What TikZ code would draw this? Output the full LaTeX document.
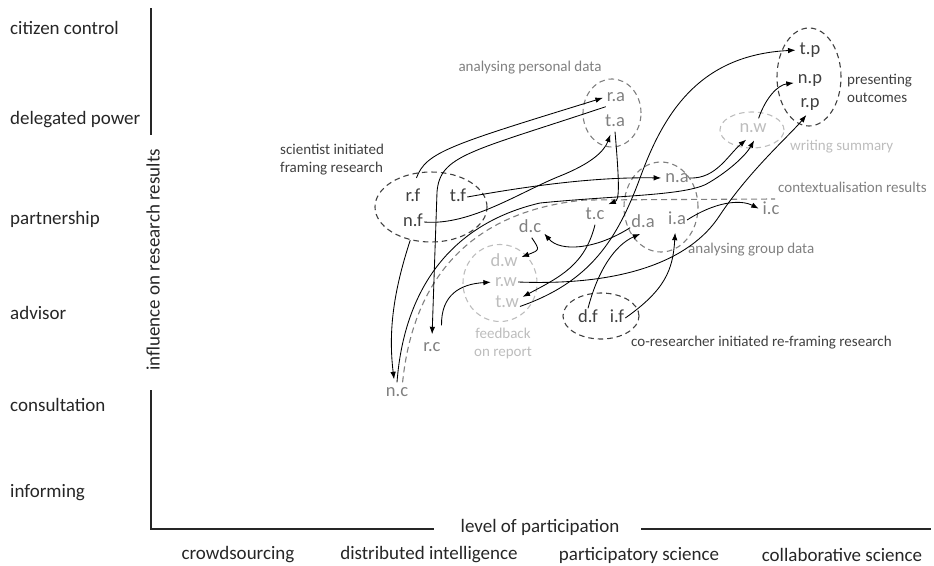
\documentclass[tikz,border=0pt]{standalone}
\usepackage{fontspec}
\setmainfont{Carlito}
\usetikzlibrary{arrows.meta,shapes.geometric}
\definecolor{axisink}{HTML}{262626}
\definecolor{darkink}{HTML}{404040}
\definecolor{midink}{HTML}{808080}
\definecolor{lightink}{HTML}{BDBDBD}
\begin{document}
\begin{tikzpicture}[x=1pt,y=-1pt,
  lvl/.style={anchor=west, inner sep=0pt, text=axisink, font=\fontsize{19}{22}\selectfont},
  axtext/.style={inner sep=0pt, text=axisink, font=\fontsize{19}{22}\selectfont},
  lbl/.style={inner sep=1pt, text height=13pt, text depth=4pt, font=\fontsize{18.5}{20}\selectfont},
  dk/.style={lbl, text=darkink},
  md/.style={lbl, text=midink},
  lt/.style={lbl, text=lightink},
  note/.style={inner sep=0pt, font=\fontsize{15}{18}\selectfont},
  grp/.style={ellipse, inner sep=0pt, dashed, dash pattern=on 5.5pt off 4pt, line width=1.1pt},
  arr/.style={-{Latex[length=7.5pt,width=5.5pt]}, line width=0.85pt, black, shorten >=3pt},
  axisline/.style={line width=1.8pt, axisink}]
\useasboundingbox (0,0) rectangle (934,565);

% axes
\draw[axisline] (151,8) -- (151,135);
\draw[axisline] (151,390) -- (151,529) -- (434,529);
\draw[axisline] (641,529) -- (931,529);
\node[axtext, rotate=90] (yaxis) at (153,260) {influence on research results};
\node[axtext] (xaxis) at (540,527) {level of participation};

% levels of participation (ladder)
\node[lvl] (l1) at (10,28) {citizen control};
\node[lvl] (l2) at (10,120) {delegated power};
\node[lvl] (l3) at (10,219) {partnership};
\node[lvl] (l4) at (10,313) {advisor};
\node[lvl] (l5) at (10,405) {consultation};
\node[lvl] (l6) at (10,493) {informing};

% kinds of citizen science
\node[axtext] (c1) at (238,555) {crowdsourcing};
\node[axtext] (c2) at (429,555) {distributed intelligence};
\node[axtext] (c3) at (639,555) {participatory science};
\node[axtext] (c4) at (842,555) {collaborative science};

% activity groups
\node[grp, draw=darkink, minimum width=112pt, minimum height=70pt] (gsci) at (431,207) {};
\node[grp, draw=midink, minimum width=58pt, minimum height=68pt] (gpers) at (612,113) {};
\node[grp, draw=midink, minimum width=74pt, minimum height=90pt] (ggroup) at (661,207) {};
\node[grp, draw=lightink, minimum width=74pt, minimum height=77pt] (gfeed) at (500,283) {};
\node[grp, draw=lightink, minimum width=64pt, minimum height=36pt] (gsum) at (752,130) {};
\node[grp, draw=darkink, minimum width=64pt, minimum height=98pt] (gpres) at (809,77) {};
\node[grp, draw=darkink, minimum width=76pt, minimum height=46pt] (gco) at (601,316) {};

% group captions
\node[note, text=darkink, anchor=west, align=left] (tsci) at (280,160) {scientist initiated\\framing research};
\node[note, text=midink] (tpers) at (530,68) {analysing personal data};
\node[note, text=midink, anchor=west] (tgroup) at (688,250) {analysing group data};
\node[note, text=lightink, align=center] (tfeed) at (503,343) {feedback\\on report};
\node[note, text=lightink, anchor=west] (tsum) at (790,147) {writing summary};
\node[note, text=darkink, anchor=west, align=left] (tpres) at (847,88) {presenting\\outcomes};
\node[note, text=darkink, anchor=west] (tco) at (631,343) {co-researcher initiated re-framing research};
\node[note, text=midink, anchor=west] (tctx) at (778,187) {contextualisation results};

% actors per activity
\node[dk] (rf) at (413,197) {r.f};
\node[dk] (tf) at (458,197) {t.f};
\node[dk] (nf) at (413,222) {n.f};
\node[md] (ra) at (616,97) {r.a};
\node[md] (ta) at (615,122) {t.a};
\node[md] (na) at (677,178) {n.a};
\node[md] (da) at (643,223) {d.a};
\node[md] (ia) at (677,220) {i.a};
\node[md] (tc) at (595,215) {t.c};
\node[md] (dc) at (530,228) {d.c};
\node[md] (ic) at (771,210) {i.c};
\node[md] (rc) at (432,347) {r.c};
\node[md] (nc) at (397,392) {n.c};
\node[lt] (dw) at (504,262) {d.w};
\node[lt] (rw) at (506,282) {r.w};
\node[lt] (tw) at (507,303) {t.w};
\node[lt] (nw) at (753,128) {n.w};
\node[dk] (tp) at (810,50) {t.p};
\node[dk] (np) at (810,79) {n.p};
\node[dk] (rp) at (810,103) {r.p};
\node[dk] (df) at (588,318) {d.f};
\node[dk] (if) at (617,318) {i.f};

\coordinate (ctxend) at (775,199);

% contextualisation band
\draw[midink, line width=1.1pt, dash pattern=on 6pt off 4pt]
  (nc.60) .. controls (412,290) and (460,212) .. (585,200) -- (ctxend);

% transitions between activities
\draw[arr, shorten <=10pt] (rf.north) .. controls (426,152) and (450,145) .. (ra.west);
\draw[arr] (ra.south west) .. controls (470,152) and (440,155) .. (437,192) -- (rc.north);
\draw[arr] (tf.east) .. controls (540,184) and (600,177) .. (na.west);
\draw[arr] (nf.east) .. controls (470,226) and (520,192) .. (560,176)
  .. controls (590,164) and (604,152) .. (ta.-110);
\draw[arr, shorten <=9pt] (nf.south) .. controls (394,290) and (388,330) .. (nc.105);
\draw[arr] (ta.south) .. controls (620,190) and (619,200) .. (tc.north east);
\draw[arr] (tc.south) .. controls (585,265) and (560,277) .. (tw.20);
\draw[arr] (tw.-15) .. controls (590,282) and (617,240) .. (640,178)
  .. controls (664,112) and (700,55) .. (tp.west);
\draw[arr] (dc.-80) .. controls (540,250) .. (dw.15);
\draw[arr] (da.-160) .. controls (595,250) and (560,252) .. (dc.-15);
\draw[arr] (df.north) .. controls (598,270) and (615,245) .. (da.south);
\draw[arr] (if.east) .. controls (665,290) and (673,270) .. (ia.-100);
\draw[arr] (ia.east) .. controls (715,202) and (740,199) .. (ic.west);
\draw[arr] (rw.east) .. controls (620,286) and (690,262) .. (720,215)
  .. controls (750,170) and (790,135) .. (rp.-100);
\draw[arr, shorten <=12pt] (rc.north east) .. controls (441,295) and (460,284) .. (rw.west);
\draw[arr] (na.east) .. controls (716,179) and (728,155) .. (nw.-115);
\draw[arr] (nc.north) .. controls (404,290) and (450,224) .. (540,203)
  .. controls (620,195) and (690,196) .. (710,182)
  .. controls (730,170) and (746,155) .. (nw.-75);
\draw[arr] (nw.60) .. controls (766,97) and (778,85) .. (np.195);
\end{tikzpicture}
\end{document}
